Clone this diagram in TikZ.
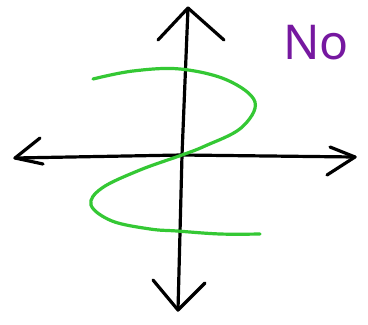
\documentclass[tikz,border=0pt]{standalone}
\usepackage{fontspec}
\setsansfont{Noto Sans}
\begin{document}
\begin{tikzpicture}[x=1pt,y=-1pt,
  axis/.style={line width=3.2pt,draw=black,line cap=round,line join=round},
  curve/.style={line width=3.2pt,draw=sgreen,line cap=round},
  lbl/.style={text=spurple,font=\sffamily\fontsize{48}{48}\selectfont,inner sep=0pt}]
\definecolor{sgreen}{RGB}{52,200,52}
\definecolor{spurple}{RGB}{118,24,160}
\useasboundingbox (0,0) rectangle (368,325);
\fill[white] (0,0) rectangle (368,325);
% axis end points
\coordinate (top) at (188,8);
\coordinate (bot) at (178,310);
\coordinate (lft) at (15,158);
\coordinate (rgt) at (355,157);
\coordinate (o) at (182,155);
% axes
\draw[axis] (top) -- (o) -- (bot);
\draw[axis] (lft) -- (o) -- (rgt);
% arrowheads
\draw[axis] (158,40) -- (top) -- (224,40);
\draw[axis] (153,280) -- (bot) -- (205,283);
\draw[axis] (40,138) -- (lft) -- (43,164);
\draw[axis] (330,147) -- (rgt) -- (327,175);
% green S curve
\draw[curve] plot[smooth,tension=0.6] coordinates {(93,79) (133,71) (180,69) (227,80) (255,102) (241,128) (205,146) (182,155) (140,170) (102,188) (91,205) (112,221) (150,229) (177,231) (220,234) (260,234)};
% label
\node[lbl] (no) at (316,43) {No};
\end{tikzpicture}
\end{document}
